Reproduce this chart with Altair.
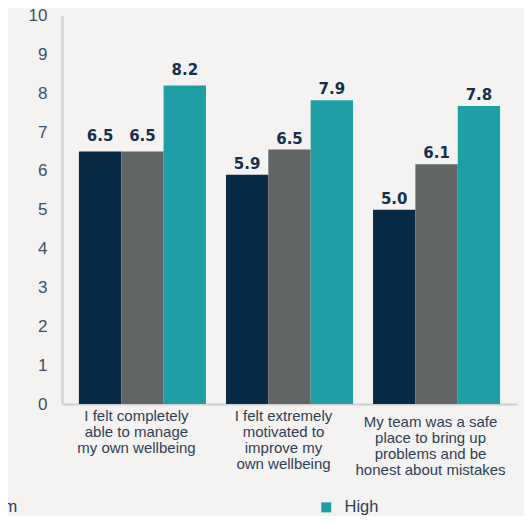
import altair as alt
import pandas as pd

# ---- data ----
categories = [
    "I felt completely|able to manage|my own wellbeing",
    "I felt extremely|motivated to|improve my|own wellbeing",
    "My team was a safe|place to bring up|problems and be|honest about mistakes",
]
series = ["Low", "Medium", "High"]
low_values = [6.5, 5.9, 5.0]
medium_values = [6.5, 6.55, 6.17]
high_values = [8.2, 7.82, 7.67]
low_labels = ["6.5", "5.9", "5.0"]
medium_labels = ["6.5", "6.5", "6.1"]
high_labels = ["8.2", "7.9", "7.8"]
colors = ["#072a47", "#616566", "#1f9fa5"]

rows = []
for i, cat in enumerate(categories):
    for s, vals, labs in zip(series,
                             [low_values, medium_values, high_values],
                             [low_labels, medium_labels, high_labels]):
        rows.append({"category": cat, "series": s, "value": vals[i], "label": labs[i]})
df = pd.DataFrame(rows)

TEXT_COL = "#2e4057"
BG = "#f4f3f1"

base = alt.Chart(df).encode(
    x=alt.X(
        "category:N",
        sort=categories,
        scale=alt.Scale(paddingInner=0.136, paddingOuter=0.115),
        axis=alt.Axis(
            title=None,
            labelExpr="split(datum.label, '|')",
            labelAngle=0,
            ticks=False,
            labelPadding={"condition": {"test": "indexof(datum.value, 'My team') == 0", "value": 10}, "value": 4},
            labelOffset=-6,
            labelFont="Liberation Sans",
            labelFontSize=15,
            labelLineHeight=16,
            labelColor=TEXT_COL,
            labelLimit=0,
            domainColor="#d0d0d0",
            domainWidth=2,
        ),
    ),
    xOffset=alt.XOffset("series:N", sort=series, scale=alt.Scale(paddingInner=0, paddingOuter=0)),
    y=alt.Y(
        "value:Q",
        scale=alt.Scale(domain=[0, 10]),
        axis=alt.Axis(
            title=None,
            values=list(range(11)),
            format="d",
            ticks=False,
            grid=False,
            labelPadding=15,
            labelFont="Liberation Sans",
            labelFontSize=17,
            labelColor="#3d4f66",
            domainColor="#d4d4d4",
            domainWidth=2.5,
        ),
    ),
)

bars = base.mark_bar().encode(
    color=alt.Color(
        "series:N",
        sort=series,
        scale=alt.Scale(domain=series, range=colors),
        legend=alt.Legend(
            title=None,
            orient="none",
            direction="horizontal",
            legendX=-487,
            legendY=483.5,
            symbolType="square",
            symbolSize=100,
            symbolStrokeWidth=0,
            symbolOpacity=1,
            labelFont="Liberation Sans",
            labelFontSize=16.5,
            labelColor=TEXT_COL,
            labelOffset=10,
            columnPadding=300,
            padding=0,
        ),
    )
)

text_style = dict(font="DejaVu Sans", fontWeight="bold", fontSize=15,
                  color="#14304d", baseline="alphabetic")

labels_first = base.mark_text(dy=-10.5, **text_style).encode(
    text="label:N"
).transform_filter(alt.datum.category == categories[0])

labels_rest = base.mark_text(dy=-6, **text_style).encode(
    text="label:N"
).transform_filter(alt.datum.category != categories[0])

chart = alt.layer(bars, labels_first, labels_rest).properties(
    width=455,
    height=388.5,
    padding={"left": 54, "top": 7.5, "right": 7, "bottom": 112},
    autosize=alt.AutoSizeParams(type="none"),
    background=BG,
).configure_view(stroke=None)

chart.save("out.html", embed_options={"renderer": "svg", "actions": False})
